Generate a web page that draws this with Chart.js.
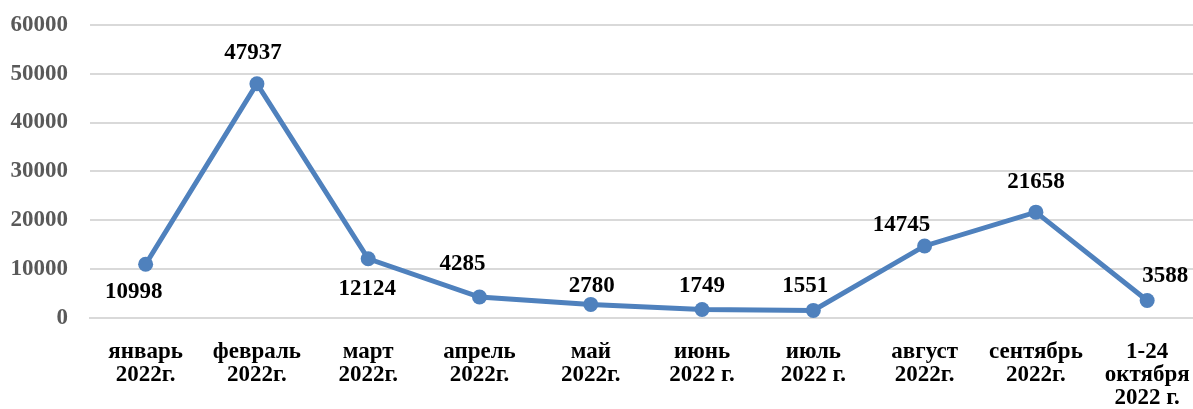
<!DOCTYPE html>
<html>
<head>
<meta charset="utf-8">
<script src="https://cdn.jsdelivr.net/npm/chart.js@4/dist/chart.umd.min.js"></script>
<style>
  html, body { margin: 0; padding: 0; background: #fff; overflow: hidden; }
  #wrap { width: 1213px; height: 420px; margin-top: -11px; }
</style>
</head>
<body>
<div id="wrap"><canvas id="lineChart" width="1213" height="420"></canvas></div>
<script>
// months (multi-line labels as in the source)
const months = [
  ['январь', '2022г.'],
  ['февраль', '2022г.'],
  ['март', '2022г.'],
  ['апрель', '2022г.'],
  ['май', '2022г.'],
  ['июнь', '2022 г.'],
  ['июль', '2022 г.'],
  ['август', '2022г.'],
  ['сентябрь', '2022г.'],
  ['1-24', 'октября', '2022 г.']
];
const counts = [10998, 47937, 12124, 4285, 2780, 1749, 1551, 14745, 21658, 3588];
const yTicks = [0, 10000, 20000, 30000, 40000, 50000, 60000];

// where each value label sits relative to its point (dx, dy of text centre)
const labelShift = [
  [-12, 28], [-4, -31], [-1, 30], [-17, -33], [1, -18],
  [0, -23], [-8, -24], [-23, -21], [0, -30], [18, -24]
];

const valueLabels = {
  id: 'valueLabels',
  afterDatasetsDraw(chart) {
    const ctx = chart.ctx;
    const meta = chart.getDatasetMeta(0);
    ctx.save();
    ctx.font = 'bold 23px "Liberation Serif", "Times New Roman", serif';
    ctx.fillStyle = '#000';
    ctx.textAlign = 'center';
    ctx.textBaseline = 'middle';
    meta.data.forEach((pt, i) => {
      const s = labelShift[i];
      ctx.fillText(String(counts[i]), pt.x + s[0], pt.y + s[1]);
    });
    ctx.restore();
  }
};

new Chart(document.getElementById('lineChart'), {
  type: 'line',
  data: {
    labels: months,
    datasets: [{
      data: counts,
      borderColor: '#4F81BD',
      backgroundColor: '#4F81BD',
      borderWidth: 5,
      pointRadius: 7.5,
      pointBorderWidth: 0,
      tension: 0
    }]
  },
  options: {
    responsive: false,
    animation: false,
    devicePixelRatio: 1,
    layout: { padding: { top: 1, left: 0, right: 0, bottom: 0 } },
    plugins: {
      legend: { display: false },
      tooltip: { enabled: false }
    },
    scales: {
      x: {
        offset: true,
        grid: { display: false, drawTicks: false },
        border: { display: true, color: '#d9d9d9', width: 2 },
        ticks: {
          autoSkip: false,
          maxRotation: 0,
          minRotation: 0,
          padding: 23,
          color: '#000',
          font: { family: '"Liberation Serif", "Times New Roman", serif', size: 23, weight: 'bold', lineHeight: 1.0 }
        },
        afterFit(scale) { scale.height = 91; }
      },
      y: {
        min: 0,
        max: 60000,
        afterBuildTicks(scale) { scale.ticks = yTicks.map(v => ({ value: v })); },
        grid: { color: '#d9d9d9', lineWidth: 2, drawTicks: false },
        border: { display: false },
        ticks: {
          padding: 22,
          color: '#595959',
          callback: v => String(v),
          font: { family: '"Liberation Serif", "Times New Roman", serif', size: 23, weight: 'bold' }
        },
        afterFit(scale) { scale.width = 90; }
      }
    }
  },
  plugins: [valueLabels]
});
</script>
</body>
</html>
